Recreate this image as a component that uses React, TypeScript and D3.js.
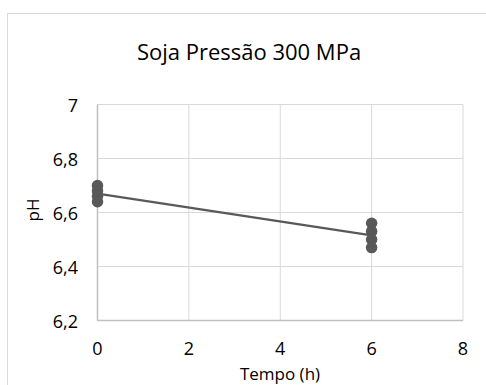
import React from "react";
import * as d3 from "d3";

const W = 486;
const H = 385;
const xTicks = [0, 2, 4, 6, 8];
const yTicks = [6.2, 6.4, 6.6, 6.8, 7];
const timeH = [0, 0, 0, 0, 6, 6, 6, 6];
const phValues = [6.7, 6.68, 6.66, 6.64, 6.56, 6.53, 6.5, 6.47];
const title = "Soja Pressão 300 MPa";
const xTitle = "Tempo (h)";
const yTitle = "pH";

export default function App() {
  const x = d3.scaleLinear().domain([0, 8]).range([97.5, 463]);
  const y = d3.scaleLinear().domain([6.2, 7]).range([320.5, 104.5]);
  const pts = timeH.map((t, i) => ({ t, v: phValues[i] }));
  const groups = d3.rollups(pts, (g) => d3.mean(g, (d) => d.v) as number, (d) => d.t);
  const line = d3
    .line<[number, number]>()
    .x((d) => x(d[0]))
    .y((d) => y(d[1]));
  const font = "'Open Sans', sans-serif";
  return (
    <svg
      width={W}
      height={H}
      style={{ position: "absolute", left: 0, top: 0, display: "block", background: "#fff" }}
      fontFamily={font}
    >
      <rect x={7.5} y={13.5} width={500} height={400} fill="#fff" stroke="#d9d9d9" strokeWidth={1} />
      <text x={249} y={60} textAnchor="middle" fontSize={22} fill="#000">
        {title}
      </text>
      {xTicks.map((t) => (
        <line key={"gx" + t} x1={x(t)} x2={x(t)} y1={y(7)} y2={y(6.2)} stroke="#d9d9d9" strokeWidth={1} />
      ))}
      {yTicks.map((t) => (
        <line key={"gy" + t} x1={x(0)} x2={x(8)} y1={y(t)} y2={y(t)} stroke="#d9d9d9" strokeWidth={1} />
      ))}
      <line x1={x(0)} x2={x(0)} y1={y(7)} y2={y(6.2)} stroke="#bfbfbf" strokeWidth={1.5} />
      <line x1={x(0)} x2={x(8)} y1={y(6.2)} y2={y(6.2)} stroke="#bfbfbf" strokeWidth={1.5} />
      {yTicks.map((t) => (
        <text key={"ty" + t} x={78} y={y(t) + 7} textAnchor="end" fontSize={18} fill="#000">
          {d3.format(".1f")(t).replace(".", ",").replace(",0", "")}
        </text>
      ))}
      {xTicks.map((t) => (
        <text key={"tx" + t} x={x(t)} y={355} textAnchor="middle" fontSize={18} fill="#000">
          {t}
        </text>
      ))}
      <text x={280} y={380} textAnchor="middle" fontSize={17} fill="#000">
        {xTitle}
      </text>
      <text transform={`translate(39,210) rotate(-90)`} textAnchor="middle" fontSize={17} fill="#000">
        {yTitle}
      </text>
      <path
        d={line(groups.map((g) => [g[0], g[1]]) as [number, number][]) || ""}
        fill="none"
        stroke="#595959"
        strokeWidth={2.25}
      />
      {pts.map((p, i) => (
        <circle key={i} cx={x(p.t)} cy={y(p.v)} r={5.75} fill="#595959" />
      ))}
    </svg>
  );
}
